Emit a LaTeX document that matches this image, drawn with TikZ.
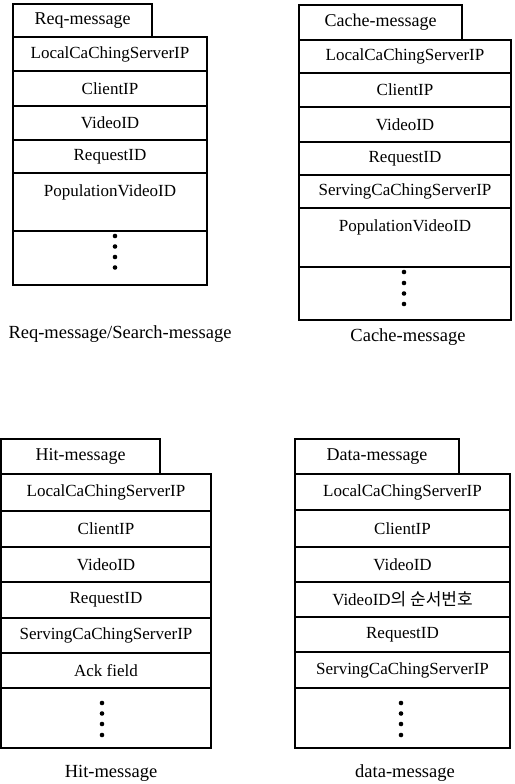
\documentclass[tikz,border=0pt]{standalone}
\usepackage{fontspec}
\setmainfont{Liberation Serif}
\newfontfamily\krfont{Noto Sans CJK KR}
\begin{document}
\begin{tikzpicture}[x=1bp,y=-1bp,
  cell/.style 2 args={draw=black, line width=1.2bp, minimum width=#1, minimum height=#2, inner sep=0pt, font=\fontsize{17bp}{19bp}\selectfont},
  tabcell/.style 2 args={draw=black, line width=1.2bp, minimum width=#1, minimum height=#2, inner sep=0pt, font=\fontsize{18bp}{20bp}\selectfont},
  fieldtext/.style={inner sep=0pt, font=\fontsize{17bp}{19bp}\selectfont},
  caption/.style={inner sep=0pt, font=\fontsize{18.5bp}{21bp}\selectfont},
  dotmark/.style={fill=black}]
\useasboundingbox (0,0) rectangle (515,784);

% ---------- Req-message ----------
\node[tabcell={139bp}{33bp}] (reqtab) at (82.5,20.5) {Req-message};
\node[cell={194bp}{34bp}] (req1) at (110,54) {LocalCaChingServerIP};
\node[cell={194bp}{35bp}] (req2) at (110,88.5) {ClientIP};
\node[cell={194bp}{34bp}] (req3) at (110,123) {VideoID};
\node[cell={194bp}{33bp}] (req4) at (110,156.5) {RequestID};
\node[cell={194bp}{58bp}] (req5) at (110,202) {};
\node[fieldtext] (req5t) at (110,192) {PopulationVideoID};
\node[cell={194bp}{54bp}] (req6) at (110,258) {};
\foreach \yy in {236,246.5,257,267.5} \fill[dotmark] (115,\yy) circle (2.3);
\node[caption] (reqcap) at (120,334) {Req-message/Search-message};

% ---------- Cache-message ----------
\node[tabcell={163bp}{35bp}] (cachetab) at (380.5,22.5) {Cache-message};
\node[cell={212bp}{33bp}] (cache1) at (405,56.5) {LocalCaChingServerIP};
\node[cell={212bp}{34bp}] (cache2) at (405,90) {ClientIP};
\node[cell={212bp}{35bp}] (cache3) at (405,124.5) {VideoID};
\node[cell={212bp}{33bp}] (cache4) at (405,158.5) {RequestID};
\node[cell={212bp}{33bp}] (cache5) at (405,191.5) {ServingCaChingServerIP};
\node[cell={212bp}{59bp}] (cache6) at (405,237.5) {};
\node[fieldtext] (cache6t) at (405,227) {PopulationVideoID};
\node[cell={212bp}{53bp}] (cache7) at (405,293.5) {};
\foreach \yy in {272,283,293.5,304} \fill[dotmark] (404,\yy) circle (2.3);
\node[caption] (cachecap) at (408,337) {Cache-message};

% ---------- Hit-message ----------
\node[tabcell={159bp}{35bp}] (hittab) at (80.5,456.5) {Hit-message};
\node[cell={210bp}{37bp}] (hit1) at (106,492.5) {LocalCaChingServerIP};
\node[cell={210bp}{36bp}] (hit2) at (106,529) {ClientIP};
\node[cell={210bp}{35bp}] (hit3) at (106,564.5) {VideoID};
\node[cell={210bp}{36bp}] (hit4) at (106,600) {RequestID};
\node[cell={210bp}{35bp}] (hit5) at (106,635.5) {ServingCaChingServerIP};
\node[cell={210bp}{35bp}] (hit6) at (106,670.5) {Ack field};
\node[cell={210bp}{60bp}] (hit7) at (106,718) {};
\foreach \yy in {703,713.5,724,735} \fill[dotmark] (102,\yy) circle (2.3);
\node[caption] (hitcap) at (111,773) {Hit-message};

% ---------- Data-message ----------
\node[tabcell={164bp}{35bp}] (datatab) at (377,456.5) {Data-message};
\node[cell={215bp}{36bp}] (data1) at (402.5,492) {LocalCaChingServerIP};
\node[cell={215bp}{37bp}] (data2) at (402.5,528.5) {ClientIP};
\node[cell={215bp}{35bp}] (data3) at (402.5,564.5) {VideoID};
\node[cell={215bp}{35bp}] (data4) at (402.5,599.5) {VideoID{\krfont 의 순서번호}};
\node[cell={215bp}{35bp}] (data5) at (402.5,634.5) {RequestID};
\node[cell={215bp}{36bp}] (data6) at (402.5,670) {ServingCaChingServerIP};
\node[cell={215bp}{60bp}] (data7) at (402.5,718) {};
\foreach \yy in {703,713.5,724,735} \fill[dotmark] (401,\yy) circle (2.3);
\node[caption] (datacap) at (405,773) {data-message};
\end{tikzpicture}
\end{document}
